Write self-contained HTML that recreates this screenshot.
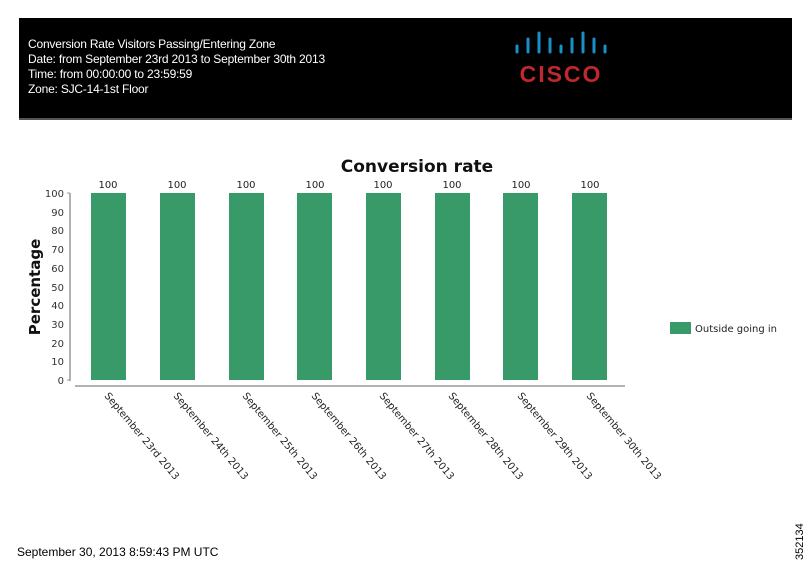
<!DOCTYPE html>
<html><head><style>
body{margin:0;width:810px;height:573px;background:#fff;position:relative;overflow:hidden;font-family:"Liberation Sans",sans-serif}
#hdr{position:absolute;left:19px;top:18px;width:773px;height:100px;background:#000;border-bottom:2px solid #555}
#hdr .t{position:absolute;left:9px;top:19px;color:#fff;font-size:12px;line-height:15px;letter-spacing:-0.2px}
</style></head><body>
<div id="hdr"><div class="t">Conversion Rate Visitors Passing/Entering Zone<br>Date: from September 23rd 2013 to September 30th 2013<br>Time: from 00:00:00 to 23:59:59<br>Zone: SJC-14-1st Floor</div>
<svg style="position:absolute;left:490px;top:12px" width="120" height="60">
<g stroke="#1a8fc7" stroke-width="3" stroke-linecap="round">
<line x1="8" y1="16" x2="8" y2="22"/><line x1="19" y1="9" x2="19" y2="22"/><line x1="30" y1="3" x2="30" y2="22"/><line x1="41" y1="9" x2="41" y2="22"/><line x1="52" y1="16" x2="52" y2="22"/><line x1="63" y1="9" x2="63" y2="22"/><line x1="74" y1="3" x2="74" y2="22"/><line x1="85" y1="9" x2="85" y2="22"/><line x1="96" y1="16" x2="96" y2="22"/></g>
<text x="52" y="52" text-anchor="middle" fill="#c0282d" font-family="Liberation Sans" font-weight="bold" font-size="23" letter-spacing="2">CISCO</text></svg></div>
<svg style="position:absolute;left:0;top:0" width="810" height="573" font-family="DejaVu Sans, Liberation Sans, sans-serif">
<text x="417" y="172" text-anchor="middle" font-size="17" font-weight="bold" fill="#111">Conversion rate</text>
<text transform="translate(40,287) rotate(-90)" text-anchor="middle" font-size="15" font-weight="bold" fill="#111">Percentage</text>
<line x1="70" y1="193" x2="70" y2="381" stroke="#999" stroke-width="1.5"/>
<g font-size="10" fill="#333" text-anchor="end">
<text x="64" y="197">100</text><text x="64" y="216">90</text><text x="64" y="234">80</text><text x="64" y="253">70</text><text x="64" y="272">60</text><text x="64" y="291">50</text><text x="64" y="309">40</text><text x="64" y="328">30</text><text x="64" y="347">20</text><text x="64" y="365">10</text><text x="64" y="384">0</text></g>
<g stroke="#999"><line x1="67" y1="193" x2="70" y2="193"/><line x1="67" y1="380" x2="70" y2="380"/></g>
<line x1="75" y1="386" x2="625" y2="386" stroke="#999" stroke-width="1.5"/>
<g fill="#389a69">
<rect x="91" y="193" width="35" height="187"/><rect x="160" y="193" width="35" height="187"/><rect x="229" y="193" width="35" height="187"/><rect x="297" y="193" width="35" height="187"/><rect x="366" y="193" width="35" height="187"/><rect x="435" y="193" width="35" height="187"/><rect x="503" y="193" width="35" height="187"/><rect x="572" y="193" width="35" height="187"/></g>
<g font-size="10" fill="#222" text-anchor="middle">
<text x="108" y="188">100</text><text x="177" y="188">100</text><text x="246" y="188">100</text><text x="315" y="188">100</text><text x="383" y="188">100</text><text x="452" y="188">100</text><text x="521" y="188">100</text><text x="590" y="188">100</text></g>
<g font-size="10" fill="#222">
<text transform="translate(104,396) rotate(50)">September 23rd 2013</text>
<text transform="translate(173,396) rotate(50)">September 24th 2013</text>
<text transform="translate(242,396) rotate(50)">September 25th 2013</text>
<text transform="translate(311,396) rotate(50)">September 26th 2013</text>
<text transform="translate(379,396) rotate(50)">September 27th 2013</text>
<text transform="translate(448,396) rotate(50)">September 28th 2013</text>
<text transform="translate(517,396) rotate(50)">September 29th 2013</text>
<text transform="translate(586,396) rotate(50)">September 30th 2013</text></g>
<rect x="670" y="322" width="21" height="12" fill="#389a69"/>
<text x="695" y="332" font-size="10" fill="#222">Outside going in</text>
<text x="17" y="556" font-size="12" fill="#000" font-family="Liberation Sans">September 30, 2013 8:59:43 PM UTC</text>
<text transform="translate(803,560) rotate(-90)" font-size="11" fill="#000" font-family="Liberation Sans">352134</text>
</svg></body></html>
